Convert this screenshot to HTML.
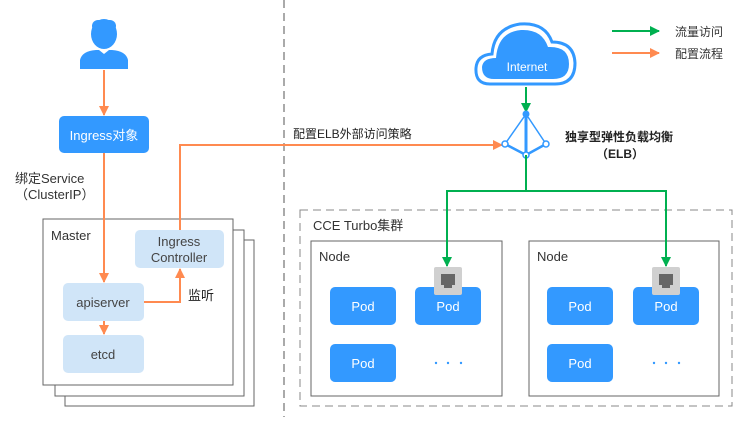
<!DOCTYPE html>
<html><head><meta charset="utf-8"><style>
body{margin:0;background:#fff;}
svg text{font-family:"Liberation Sans","Noto Sans CJK SC",sans-serif;}
</style></head><body>
<svg width="733" height="417" viewBox="0 0 733 417" xmlns="http://www.w3.org/2000/svg">
<defs>
<marker id="o" markerWidth="10" markerHeight="10" refX="9" refY="5" orient="auto" markerUnits="userSpaceOnUse"><path d="M0,0 L10,5 L0,10z" fill="#ff8a50"/></marker>
<marker id="g" markerWidth="10" markerHeight="10" refX="9" refY="5" orient="auto" markerUnits="userSpaceOnUse"><path d="M0,0 L10,5 L0,10z" fill="#00b050"/></marker>
</defs>
<line x1="284" y1="0" x2="284" y2="417" stroke="#555" stroke-dasharray="8,5"/>
<!-- person -->
<g fill="#3399ff">
<ellipse cx="104" cy="34" rx="13" ry="15"/>
<rect x="92" y="20" width="24" height="12" rx="6"/>
<path d="M80,69 L80,60 Q82,51 96,50 L112,50 Q126,51 128,60 L128,69z"/>
</g>
<path d="M99,50 L104,54 L109,50" fill="#fff"/>
<line x1="104" y1="70" x2="104" y2="115" stroke="#ff8a50" stroke-width="2" marker-end="url(#o)"/>
<rect x="59" y="116" width="90" height="37" rx="5" fill="#3399ff"/>
<text x="104" y="140" fill="#fff" font-size="13" text-anchor="middle">Ingress对象</text>
<text x="15" y="183" fill="#333" font-size="13">绑定Service</text>
<text x="15" y="199" fill="#333" font-size="13">（ClusterIP）</text>
<!-- master stack -->
<rect x="65" y="240" width="189" height="166" fill="#fff" stroke="#666"/>
<rect x="55" y="230" width="189" height="166" fill="#fff" stroke="#666"/>
<rect x="43" y="219" width="190" height="166" fill="#fff" stroke="#666"/>
<text x="51" y="240" fill="#333" font-size="13">Master</text>
<line x1="104" y1="153" x2="104" y2="282" stroke="#ff8a50" stroke-width="2" marker-end="url(#o)"/>
<rect x="135" y="230" width="89" height="38" rx="5" fill="#d0e5f8"/>
<text x="179" y="246" fill="#444" font-size="13" text-anchor="middle">Ingress</text>
<text x="179" y="262" fill="#444" font-size="13" text-anchor="middle">Controller</text>
<rect x="63" y="283" width="81" height="38" rx="5" fill="#d0e5f8"/>
<text x="103" y="307" fill="#444" font-size="13" text-anchor="middle">apiserver</text>
<rect x="63" y="335" width="81" height="38" rx="5" fill="#d0e5f8"/>
<text x="103" y="359" fill="#444" font-size="13" text-anchor="middle">etcd</text>
<line x1="104" y1="321" x2="104" y2="334" stroke="#ff8a50" stroke-width="2" marker-end="url(#o)"/>
<polyline points="144,302 180,302 180,269" fill="none" stroke="#ff8a50" stroke-width="2" marker-end="url(#o)"/>
<text x="188" y="300" fill="#222" font-size="13">监听</text>
<polyline points="180,230 180,145 502,145" fill="none" stroke="#ff8a50" stroke-width="2" marker-end="url(#o)"/>
<text x="293" y="138" fill="#222" font-size="12">配置ELB外部访问策略</text>
<!-- cloud -->
<path d="M490,84 Q475,84 476,68 Q477,55 492,54 Q494,28 520,24 Q545,22 552,42 Q574,42 575,63 Q575,84 555,84z" fill="#fff" stroke="#3399ff" stroke-width="3"/>
<path d="M494,79 Q482,79 482,67 Q483,58 496,58 Q498,32 521,30 Q542,29 548,47 Q569,46 569,64 Q569,79 553,79z" fill="#3399ff"/>
<text x="527" y="71" fill="#fff" font-size="12" text-anchor="middle">Internet</text>
<line x1="526" y1="87" x2="526" y2="112" stroke="#00b050" stroke-width="2" marker-end="url(#g)"/>
<!-- ELB icon -->
<g stroke="#3399ff" stroke-width="1.5" fill="none">
<line x1="526" y1="114" x2="505" y2="144"/><line x1="526" y1="114" x2="546" y2="144"/>
<line x1="526" y1="114" x2="526" y2="155" stroke-width="3"/>
<line x1="505" y1="144" x2="526" y2="155" stroke-width="2.5"/><line x1="546" y1="144" x2="526" y2="155" stroke-width="2.5"/>
</g>
<circle cx="526" cy="114" r="3.5" fill="#3399ff"/>
<circle cx="505" cy="144" r="3" fill="#fff" stroke="#3399ff" stroke-width="1.5"/>
<circle cx="546" cy="144" r="3" fill="#fff" stroke="#3399ff" stroke-width="1.5"/>
<circle cx="526" cy="155" r="3" fill="#fff" stroke="#3399ff" stroke-width="1.5"/>
<text x="565" y="141" fill="#222" font-size="12" font-weight="bold">独享型弹性负载均衡</text>
<text x="620" y="158" fill="#222" font-size="12" font-weight="bold" text-anchor="middle">（ELB）</text>
<!-- legend -->
<line x1="612" y1="31" x2="659" y2="31" stroke="#00b050" stroke-width="2" marker-end="url(#g)"/>
<text x="675" y="36" fill="#333" font-size="12">流量访问</text>
<line x1="612" y1="53" x2="659" y2="53" stroke="#ff8a50" stroke-width="2" marker-end="url(#o)"/>
<text x="675" y="58" fill="#333" font-size="12">配置流程</text>
<!-- cluster -->
<rect x="300" y="210" width="432" height="196" fill="none" stroke="#888" stroke-dasharray="8,5"/>
<text x="313" y="230" fill="#333" font-size="13">CCE Turbo集群</text>
<rect x="311" y="241" width="191" height="155" fill="#fff" stroke="#666"/>
<rect x="529" y="241" width="190" height="155" fill="#fff" stroke="#666"/>
<text x="319" y="261" fill="#333" font-size="13">Node</text>
<text x="537" y="261" fill="#333" font-size="13">Node</text>
<g fill="#3399ff">
<rect x="330" y="287" width="66" height="38" rx="5"/><rect x="415" y="287" width="66" height="38" rx="5"/>
<rect x="330" y="344" width="66" height="38" rx="5"/>
<rect x="547" y="287" width="66" height="38" rx="5"/><rect x="633" y="287" width="66" height="38" rx="5"/>
<rect x="547" y="344" width="66" height="38" rx="5"/>
</g>
<g fill="#fff" font-size="13" text-anchor="middle">
<text x="363" y="311">Pod</text><text x="448" y="311">Pod</text><text x="363" y="368">Pod</text>
<text x="580" y="311">Pod</text><text x="666" y="311">Pod</text><text x="580" y="368">Pod</text>
</g>
<g fill="#3399ff">
<circle cx="436" cy="363" r="1.2"/><circle cx="448" cy="363" r="1.2"/><circle cx="461" cy="363" r="1.2"/>
<circle cx="654" cy="363" r="1.2"/><circle cx="666" cy="363" r="1.2"/><circle cx="679" cy="363" r="1.2"/>
</g>
<g>
<rect x="434" y="267" width="28" height="28" rx="2" fill="#d0d0d0"/>
<path d="M441,274 h14 v11 h-3 v3 h-8 v-3 h-3z" fill="#666"/>
<rect x="652" y="267" width="28" height="28" rx="2" fill="#d0d0d0"/>
<path d="M659,274 h14 v11 h-3 v3 h-8 v-3 h-3z" fill="#666"/>
</g>
<polyline points="526,155 526,191" fill="none" stroke="#00b050" stroke-width="2"/>
<polyline points="447,263 447,191 666,191 666,263" fill="none" stroke="#00b050" stroke-width="2"/>
<line x1="447" y1="240" x2="447" y2="266" stroke="#00b050" stroke-width="2" marker-end="url(#g)"/>
<line x1="666" y1="240" x2="666" y2="266" stroke="#00b050" stroke-width="2" marker-end="url(#g)"/>
</svg>
</body></html>
